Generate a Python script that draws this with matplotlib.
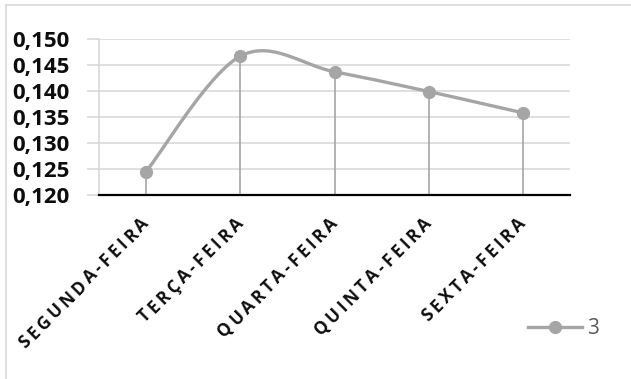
import numpy as np
import matplotlib
matplotlib.use("Agg")
import matplotlib.pyplot as plt
import matplotlib.transforms as mtransforms
from matplotlib.lines import Line2D

# Data
days = ["SEGUNDA-FEIRA", "TERÇA-FEIRA", "QUARTA-FEIRA", "QUINTA-FEIRA", "SEXTA-FEIRA"]
values = [0.1245, 0.1467, 0.1437, 0.1399, 0.1358]
series_name = "3"
y_ticks = [0.120, 0.125, 0.130, 0.135, 0.140, 0.145, 0.150]
y_tick_labels = ["0,120", "0,125", "0,130", "0,135", "0,140", "0,145", "0,150"]

SERIES_COLOR = "#a5a5a5"
GRID_COLOR = "#d9d9d9"
FONT = ["Open Sans", "DejaVu Sans"]

W, H, DPI = 631, 379, 100
fig = plt.figure(figsize=(W / DPI, H / DPI), dpi=DPI)
fig.patch.set_facecolor("white")

# chart frame (left and top edges)
fig.add_artist(Line2D([6 / W, 6 / W], [0, 1 - 5 / H], transform=fig.transFigure,
                      color=GRID_COLOR, lw=1.2))
fig.add_artist(Line2D([6 / W, 1], [1 - 5 / H, 1 - 5 / H], transform=fig.transFigure,
                      color=GRID_COLOR, lw=1.2))

left, right, bottom, top = 99 / W, 570 / W, 1 - 195 / H, 1 - 39 / H
ax = fig.add_axes([left, bottom, right - left, top - bottom])

x = np.arange(len(values))
y = np.array(values)


def smooth_curve(xs, ys, n=60):
    """Bezier smoothing through every point (Catmull-Rom style control points)."""
    pts = np.column_stack([xs, ys])
    out = []
    for i in range(len(pts) - 1):
        p0 = pts[max(i - 1, 0)]
        p1 = pts[i]
        p2 = pts[i + 1]
        p3 = pts[min(i + 2, len(pts) - 1)]
        c1 = p1 + (p2 - p0) / 6
        c2 = p2 - (p3 - p1) / 6
        t = np.linspace(0, 1, n)[:, None]
        seg = ((1 - t) ** 3) * p1 + 3 * ((1 - t) ** 2) * t * c1 \
            + 3 * (1 - t) * t ** 2 * c2 + t ** 3 * p2
        out.append(seg if i == 0 else seg[1:])
    c = np.vstack(out)
    return c[:, 0], c[:, 1]


# drop lines
ax.vlines(x, y_ticks[0], y, color=SERIES_COLOR, lw=1.2, zorder=2)
sx, sy = smooth_curve(x, y)
ax.plot(sx, sy, color=SERIES_COLOR, lw=2.4, solid_capstyle="round", zorder=3)
ax.plot(x, y, "o", color=SERIES_COLOR, ms=8.5, zorder=4)

ax.set_xlim(-0.5, len(values) - 0.5)
ax.set_ylim(y_ticks[0], y_ticks[-1])
ax.set_yticks(y_ticks)
ax.set_yticklabels(y_tick_labels)
ax.yaxis.grid(True, color=GRID_COLOR, lw=1.2)
ax.set_axisbelow(True)
ax.tick_params(axis="y", length=9, width=1.2, color=GRID_COLOR, pad=12,
               labelsize=16, labelcolor="#0d0d0d")
for lab in ax.get_yticklabels():
    lab.set_fontfamily(FONT)
    lab.set_fontweight("bold")
ax.set_xticks([])
for s in ("top", "right"):
    ax.spines[s].set_visible(False)
ax.spines["left"].set_color(GRID_COLOR)
ax.spines["left"].set_linewidth(1.2)
ax.spines["bottom"].set_color("#000000")
ax.spines["bottom"].set_linewidth(1.6)
ax.spines["bottom"].set_zorder(5)

# rotated, letter-spaced category labels
renderer = fig.canvas.get_renderer()
lab_size = 12.5
tracking = 3.2
ang = np.deg2rad(45)
ux, uy = np.cos(ang), np.sin(ang)


def char_width(ch):
    t = fig.text(0, 0, ch, fontsize=lab_size, fontweight="bold", family=FONT)
    w = t.get_window_extent(renderer).width
    t.remove()
    return w


for i, name in enumerate(days):
    widths = [char_width(c) for c in name]
    # center of the last character, measured from the tick at the axis line
    cx, cy = -4.0, -30.0
    for k in range(len(name) - 1, -1, -1):
        tr = mtransforms.offset_copy(ax.get_xaxis_transform(), fig=fig,
                                     x=cx, y=cy, units="dots")
        ax.text(i, 0, name[k], transform=tr, rotation=45, rotation_mode="anchor",
                ha="center", va="center", fontsize=lab_size, fontweight="bold",
                family=FONT, color="#0d0d0d", clip_on=False)
        if k > 0:
            step = (widths[k] + widths[k - 1]) / 2 + tracking
            cx -= step * ux
            cy -= step * uy

# legend
handle = Line2D([], [], color=SERIES_COLOR, lw=2.4, marker="o", ms=8.5)
fig.legend([handle], [series_name], loc="center left",
           bbox_to_anchor=(528 / W, 1 - 329 / H), frameon=False,
           borderpad=0, borderaxespad=0, handlelength=2.6, handletextpad=0.25,
           prop={"family": FONT, "size": 15}, labelcolor="#595959")

fig.savefig("out.png", dpi=DPI, facecolor="white")
